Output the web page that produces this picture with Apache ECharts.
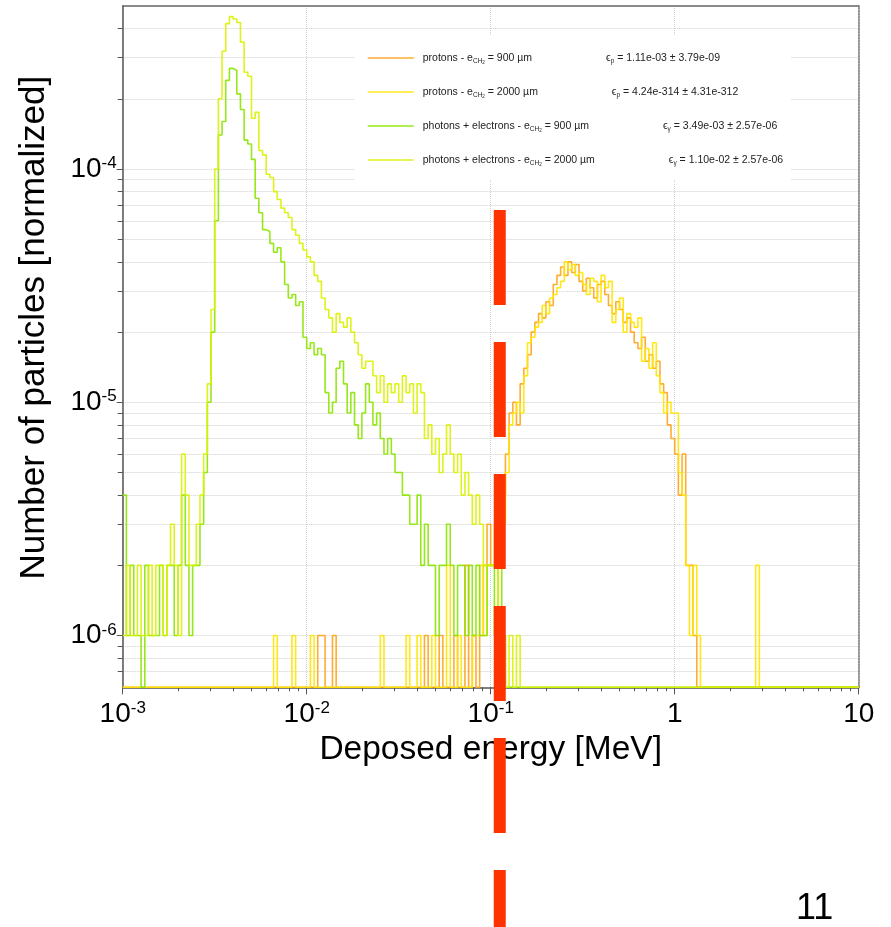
<!DOCTYPE html>
<html><head><meta charset="utf-8">
<script src="https://cdn.jsdelivr.net/npm/echarts@6/dist/echarts.min.js"></script>
<style>html,body{margin:0;padding:0;background:#fff}#c{width:891px;height:927px}</style>
</head><body><div id="c"></div>
<script>
// ---- histogram definition (log-uniform bins) ----
const BIN_MIN = 1e-3, BIN_MAX = 10, N_BINS = 200;
const COUNT_UNIT = 1e-6;          // one entry, normalized
const Y_MIN = 6e-7, Y_MAX = 5e-4;

// ---- tick values ----
const X_MAJOR = [1e-3, 1e-2, 1e-1, 1, 10];
const X_MINOR = [2e-3,3e-3,4e-3,5e-3,6e-3,7e-3,8e-3,9e-3,
                 2e-2,3e-2,4e-2,5e-2,6e-2,7e-2,8e-2,9e-2,
                 0.2,0.3,0.4,0.5,0.6,0.7,0.8,0.9,
                 2,3,4,5,6,7,8,9];
const Y_MAJOR = [1e-6, 1e-5, 1e-4];
const Y_MINOR = [7e-7,8e-7,9e-7,
                 2e-6,3e-6,4e-6,5e-6,6e-6,7e-6,8e-6,9e-6,
                 2e-5,3e-5,4e-5,5e-5,6e-5,7e-5,8e-5,9e-5,
                 2e-4,3e-4,4e-4];

// ---- counts per bin (in units of COUNT_UNIT), 200 bins each ----
const protons900 = [
 0,0,0,0,0,0,0,0,0,0, 0,0,0,0,0,0,0,0,0,0, 0,0,0,0,0,0,0,0,0,0, 0,0,0,0,0,0,0,0,0,0,
 0,0,0,0,0,0,0,0,0,0, 0,0,0,1,1,0,0,1,0,0, 0,0,0,0,0,0,0,0,0,0, 0,0,0,0,0,0,0,0,0,0,
 0,0,1,0,0,0,1,0,0,0, 1,0,0,2,0,1,0,1,2,3, 2,2,3,4,6,9,10,8,12,14, 16,20,22,24,23,27,26,32,35,38,
 35,40,36,39,33,30,34,31,28,32, 33,29,26,24,27,25,22,23,20,18, 17,19,15,16,14,15,12,11,8,7,
 6,4,6,2,2,1,0,0,0,0, 0,0,0,0,0,0,0,0,0,0, 0,0,0,0,0,0,0,0,0,0, 0,0,0,0,0,0,0,0,0,0,
 0,0,0,0,0,0,0,0,0,0];
const protons2000 = [
 0,0,0,0,0,0,0,0,0,0, 0,0,0,0,0,0,0,0,0,0, 0,0,0,0,0,0,0,0,0,0, 0,0,0,0,0,0,0,0,0,0,
 0,1,0,0,0,0,1,0,0,0, 0,1,0,0,0,0,0,0,0,0, 0,0,0,0,0,0,0,0,0,0, 1,0,0,0,0,0,0,1,0,0,
 1,0,0,0,1,0,0,0,2,0, 0,1,0,0,0,1,1,2,1,2, 2,3,2,3,5,8,9,10,9,13, 18,19,21,22,26,24,28,29,31,33,
 40,37,39,35,36,32,29,34,33,27, 35,31,33,22,25,28,20,24,22,21, 23,15,17,14,18,13,11,9,10,9,
 9,5,4,2,1,2,1,0,0,0, 0,0,0,0,0,0,0,0,0,0, 0,0,2,0,0,0,0,0,0,0, 0,0,0,0,0,0,0,0,0,0,
 0,0,0,0,0,0,0,0,0,0];
const photons900 = [
 4,1,2,1,1,0,2,1,1,1, 2,1,2,2,1,2,4,2,1,2, 2,3,5,10,20,60,140,160,240,270,
 265,210,180,133,128,110,75,65,55,54, 48,44,46,40,32,28,29,26,27,19, 17,18,16,17,16,11,9,10,14,15,
 12,9,11,8,7,9,12,10,8,9, 7,6,7,6,5,5,4,4,3,3, 4,2,3,2,2,1,2,2,3,2, 1,2,2,1,2,1,2,1,1,2,
 2,1,2,1,0,0,0,0,0,0, 0,0,0,0,0,0,0,0,0,0, 0,0,0,0,0,0,0,0,0,0, 0,0,0,0,0,0,0,0,0,0,
 0,0,0,0,0,0,0,0,0,0, 0,0,0,0,0,0,0,0,0,0, 0,0,0,0,0,0,0,0,0,0, 0,0,0,0,0,0,0,0,0,0,
 0,0,0,0,0,0,0,0,0,0, 0,0,0,0,0,0,0,0,0,0];
const photons2000 = [
 1,2,1,1,2,1,1,2,1,2, 2,1,2,3,2,1,6,4,2,2, 3,4,6,12,25,100,200,320,420,450,
 440,425,350,260,250,165,175,120,115,95, 92,80,74,68,65,62,55,52,48,45, 42,40,35,33,28,25,23,20,24,22,
 21,23,20,18,16,14,15,15,13,11, 13,10,12,11,12,10,13,11,12,9, 12,11,7,8,6,7,5,6,8,6, 5,6,4,5,4,3,4,3,2,2,
 2,2,1,1,0,1,0,1,0,0, 0,0,0,0,0,0,0,0,0,0, 0,0,0,0,0,0,0,0,0,0, 0,0,0,0,0,0,0,0,0,0,
 0,0,0,0,0,0,0,0,0,0, 0,0,0,0,0,0,0,0,0,0, 0,0,0,0,0,0,0,0,0,0, 0,0,0,0,0,0,0,0,0,0,
 0,0,0,0,0,0,0,0,0,0, 0,0,0,0,0,0,0,0,0,0];

const THRESHOLD = [0.112];   // red dashed cut (MeV)

const SERIES_NAMES = ['protons 900', 'protons 2000', 'photons 900', 'photons 2000'];
const LEGEND_TEXT = [
 '{p| }{n|protons - e}{s|CH}{ss|2}{n| = 900 µm}{gap| }{n|ϵ}{s|p}{n| = 1.11e-03 ± 3.79e-09}',
 '{p| }{n|protons - e}{s|CH}{ss|2}{n| = 2000 µm}{gap| }{n|ϵ}{s|p}{n| = 4.24e-314 ± 4.31e-312}',
 '{p| }{n|photons + electrons - e}{s|CH}{ss|2}{n| = 900 µm}{gap| }{n|ϵ}{s|γ}{n| = 3.49e-03 ± 2.57e-06}',
 '{p| }{n|photons + electrons - e}{s|CH}{ss|2}{n| = 2000 µm}{gap| }{n|ϵ}{s|γ}{n| = 1.10e-02 ± 2.57e-06}'
];
const COLORS = ['#FFA31A', '#FFE600', '#8CE600', '#D9F200'];

const FONT = '"Liberation Sans", Arial, sans-serif';

// bin edges of the log-uniform histogram
const edges = [];
for (let i = 0; i <= N_BINS; i++) edges.push(BIN_MIN * Math.pow(BIN_MAX / BIN_MIN, i / N_BINS));

function histPoints(counts) {
  const pts = counts.map((c, i) => [edges[i], c > 0 ? c * COUNT_UNIT : Y_MIN]);
  const last = counts[counts.length - 1];
  pts.push([edges[N_BINS], last > 0 ? last * COUNT_UNIT : Y_MIN]);
  return pts;
}

function logLabel(v) {
  const e = Math.round(Math.log10(v));
  if (e === 0) return '{b|1}';
  if (e === 1) return '{b|10}';
  return '{b|10}{s|' + e + '}';
}
const tickRich = {
  b: {fontSize: 28, fontFamily: FONT, color: '#000', lineHeight: 28},
  s: {fontSize: 17, fontFamily: FONT, color: '#000', lineHeight: 10, verticalAlign: 'top'}
};

const AXC = '#555';
const GRIDC = '#cfcfcf';
const L = 122.7, R = 891 - 858.7;

const chart = echarts.init(document.getElementById('c'), null, {renderer: 'canvas'});
const hists = [protons900, protons2000, photons900, photons2000];

chart.setOption({
  animation: false,
  backgroundColor: '#fff',
  grid: [
    {left: L, right: R, top: 6, bottom: 927 - 687.3},
    {left: L, right: R, top: 210, bottom: 0}
  ],
  xAxis: [
    {type: 'log', logBase: 10, gridIndex: 0, min: BIN_MIN, max: BIN_MAX, position: 'bottom',
     axisLine: {show: true, onZero: false, lineStyle: {color: AXC, width: 1.5}},
     axisTick: {show: true, inside: false, length: 7, customValues: X_MAJOR, lineStyle: {color: AXC, width: 1}},
     axisLabel: {show: true, customValues: X_MAJOR, formatter: logLabel, margin: 13, rich: tickRich},
     splitLine: {show: true, lineStyle: {color: GRIDC, type: 'dotted', width: 1}},
     name: 'Deposed energy [MeV]', nameLocation: 'middle', nameGap: 41,
     nameTextStyle: {fontSize: 33.5, fontFamily: FONT, color: '#000'}},
    {type: 'log', logBase: 10, gridIndex: 0, min: BIN_MIN, max: BIN_MAX, position: 'bottom',
     axisLine: {show: false},
     axisTick: {show: true, inside: false, length: 4, customValues: X_MINOR, lineStyle: {color: AXC, width: 1}},
     axisLabel: {show: false}, splitLine: {show: false}},
    {type: 'log', logBase: 10, gridIndex: 0, min: BIN_MIN, max: BIN_MAX, position: 'top',
     axisLine: {show: true, lineStyle: {color: '#666', width: 1.5}},
     axisTick: {show: false}, axisLabel: {show: false}, splitLine: {show: false}},
    {type: 'log', logBase: 10, gridIndex: 1, min: BIN_MIN, max: BIN_MAX, show: false}
  ],
  yAxis: [
    {type: 'log', logBase: 10, gridIndex: 0, min: Y_MIN, max: Y_MAX, position: 'left',
     axisLine: {show: true, onZero: false, lineStyle: {color: AXC, width: 1.5}},
     axisTick: {show: true, inside: false, length: 6, customValues: Y_MAJOR, lineStyle: {color: AXC, width: 1}},
     axisLabel: {show: true, customValues: Y_MAJOR, formatter: logLabel, margin: 6, rich: tickRich},
     splitLine: {show: true, lineStyle: {color: GRIDC, type: 'dotted', width: 1}},
     name: 'Number of particles [normalized]', nameLocation: 'middle', nameGap: 71,
     nameTextStyle: {fontSize: 35, fontFamily: FONT, color: '#000', padding: [0, 0, 0, 38]}},
    {type: 'log', logBase: 10, gridIndex: 0, min: Y_MIN, max: Y_MAX, position: 'left',
     axisLine: {show: false},
     axisTick: {show: true, inside: false, length: 5, customValues: Y_MINOR, lineStyle: {color: AXC, width: 1}},
     axisLabel: {show: false},
     splitLine: {show: true, lineStyle: {color: GRIDC, type: 'dotted', width: 1}}},
    {type: 'log', logBase: 10, gridIndex: 0, min: Y_MIN, max: Y_MAX, position: 'right',
     axisLine: {show: true, lineStyle: {color: '#777', width: 1.5, type: [2, 1]}},
     axisTick: {show: false}, axisLabel: {show: false}, splitLine: {show: false}},
    {type: 'value', gridIndex: 1, min: 0, max: 1, show: false}
  ],
  legend: {
    data: SERIES_NAMES, orient: 'vertical', left: 355, top: 35,
    backgroundColor: '#fff', padding: [17, 8, 13, 12], itemGap: 21,
    itemWidth: 46, itemHeight: 14, selectedMode: false,
    itemStyle: {opacity: 0},
    lineStyle: {width: 1.5},
    formatter: name => LEGEND_TEXT[SERIES_NAMES.indexOf(name)],
    textStyle: {
      rich: {
        p: {width: 4},
        n: {fontSize: 10.5, fontFamily: FONT, color: '#222', lineHeight: 14},
        s: {fontSize: 6.5, fontFamily: FONT, color: '#222', lineHeight: 5, verticalAlign: 'bottom'},
        ss: {fontSize: 4.5, fontFamily: FONT, color: '#222', lineHeight: 2, verticalAlign: 'bottom'},
        gap: {width: 74}
      }
    }
  },
  graphic: [
    {type: 'text', left: 796, top: 891, style: {text: '11', font: '36px ' + FONT, fill: '#000'}}
  ],
  series: hists.map((h, k) => ({
    name: SERIES_NAMES[k], type: 'line', step: 'end', xAxisIndex: 0, yAxisIndex: 0,
    data: histPoints(h), symbol: 'none', showSymbol: false, clip: true,
    color: COLORS[k],
    lineStyle: {color: COLORS[k], width: 1.6, opacity: 0.9}
  })).concat([{
    name: 'cut', type: 'line', xAxisIndex: 3, yAxisIndex: 3, symbol: 'none', silent: true, z: 10,
    data: [[THRESHOLD[0], 0], [THRESHOLD[0], 1]],
    lineStyle: {color: '#FF3300', width: 12, type: [95, 37], dashOffset: 38, cap: 'butt'}
  }])
});
</script></body></html>
